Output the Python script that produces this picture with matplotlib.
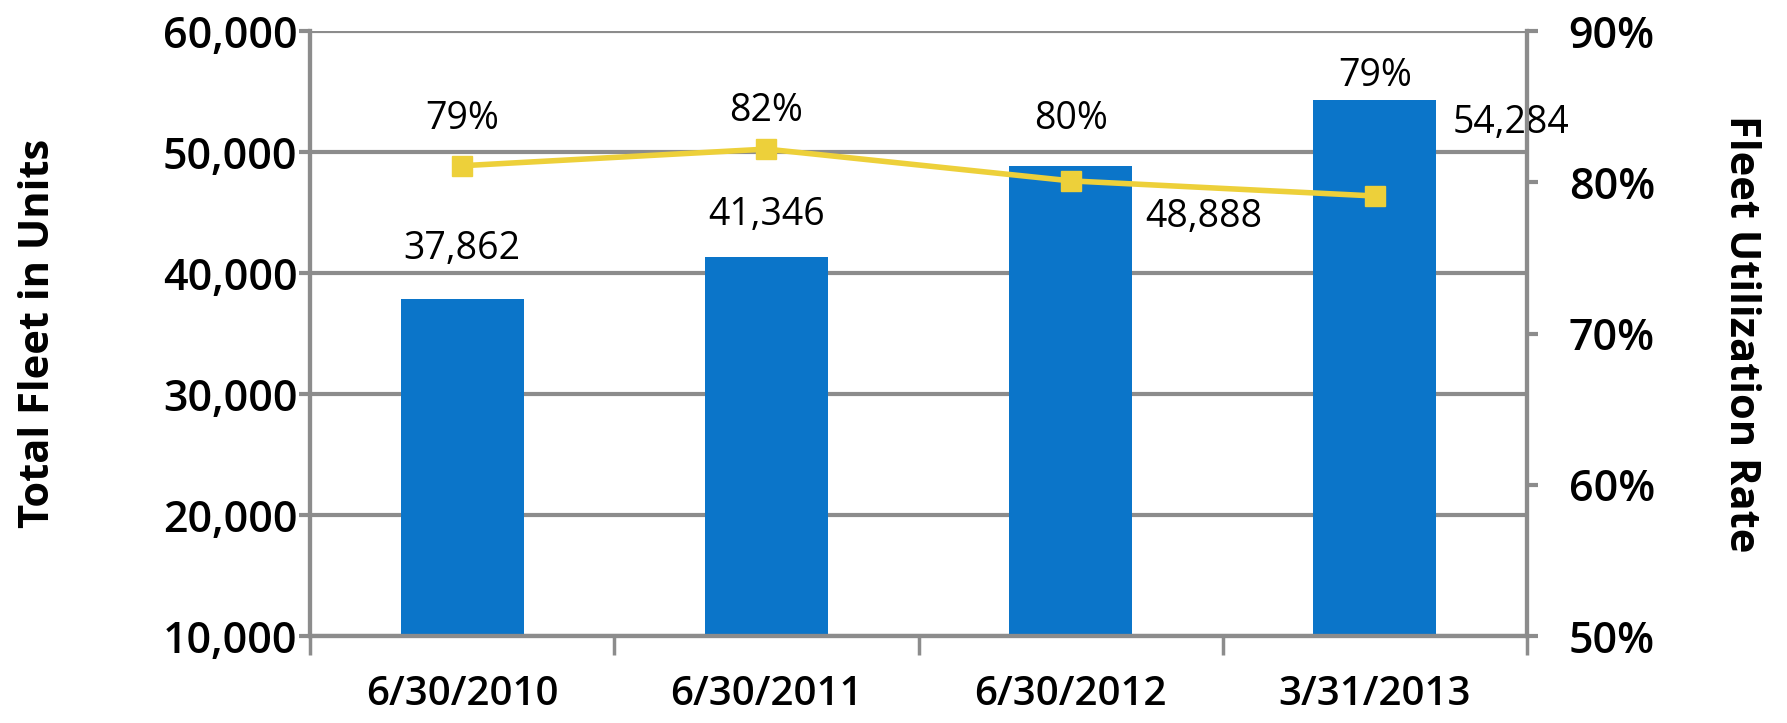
import matplotlib
matplotlib.use("Agg")
import matplotlib.pyplot as plt
from matplotlib.ticker import FuncFormatter

categories = ["6/30/2010", "6/30/2011", "6/30/2012", "3/31/2013"]
fleet_units = [37862, 41346, 48888, 54284]
utilization = [81.1, 82.2, 80.1, 79.1]
util_labels = ["79%", "82%", "80%", "79%"]

BAR_C = "#0B75C9"
LINE_C = "#EDD03A"
GRID_C = "#8C8C8C"
FONT = ["Open Sans", "DejaVu Sans"]

fig = plt.figure(figsize=(17.87, 7.23), dpi=100)
ax = fig.add_axes([0.1735, 0.120, 0.681, 0.837])
ax2 = ax.twinx()

x = list(range(len(categories)))
ax.bar(x, fleet_units, width=0.405, color=BAR_C, zorder=2, bottom=0)
ax.set_ylim(10000, 60000)
ax.set_xlim(-0.5, len(categories) - 0.5)
ax.set_yticks(range(10000, 60001, 10000))
ax.yaxis.set_major_formatter(FuncFormatter(lambda v, p: f"{int(v):,}"))
ax.grid(axis="y", color=GRID_C, linewidth=3, zorder=0)
ax.set_axisbelow(True)

ax.set_xticks(x)
ax.set_xticklabels(categories)
ax.set_xticks([i - 0.5 for i in range(len(categories) + 1)], minor=True)
ax.tick_params(axis="x", which="major", length=0, pad=28)
ax.tick_params(axis="x", which="minor", length=14, width=2.5, color=GRID_C)
ax.tick_params(axis="y", length=8, width=3, color=GRID_C, pad=1)

for a in (ax, ax2):
    a.spines["top"].set_visible(False)
    for s in ("left", "right", "bottom"):
        a.spines[s].set_color(GRID_C)
        a.spines[s].set_linewidth(3)

ax2.plot(x, utilization, color=LINE_C, linewidth=4, marker="s", markersize=15,
         markeredgecolor=LINE_C, zorder=5)
ax2.set_ylim(50, 90)
ax2.set_yticks(range(50, 91, 10))
ax2.yaxis.set_major_formatter(FuncFormatter(lambda v, p: f"{int(v)}%"))
ax2.tick_params(axis="y", length=8, width=3, color=GRID_C, pad=22)

for lab in ax.get_yticklabels() + ax2.get_yticklabels():
    lab.set_fontfamily(FONT)
    lab.set_fontsize(31)
    lab.set_fontweight("semibold")
for lab in ax.get_xticklabels():
    lab.set_fontfamily(FONT)
    lab.set_fontsize(29)
    lab.set_fontweight("semibold")

ax.set_ylabel("Total Fleet in Units", fontsize=30, fontweight="bold",
              family=FONT, labelpad=0)
ax.yaxis.set_label_coords(-0.206, 0.5)
ax2.set_ylabel("Fleet Utilization Rate", fontsize=30, fontweight="bold",
               family=FONT, rotation=-90, labelpad=0)
ax2.yaxis.set_label_coords(1.192, 0.5)

bar_offsets = [(0, 50), (0, 42), (133, -51), (136, -23)]
for xi, v, off in zip(x, fleet_units, bar_offsets):
    ax.annotate(f"{v:,}", (xi, v), xytext=off, textcoords="offset pixels",
                ha="center", va="center", fontsize=27, family=FONT, zorder=6)

util_offsets = [(0, 47), (0, 38), (0, 62), (0, 120)]
for xi, v, lab, off in zip(x, utilization, util_labels, util_offsets):
    ax2.annotate(lab, (xi, v), xytext=off, textcoords="offset pixels",
                 ha="center", va="center", fontsize=27, family=FONT, zorder=6)

fig.savefig("out.png", dpi=100)
